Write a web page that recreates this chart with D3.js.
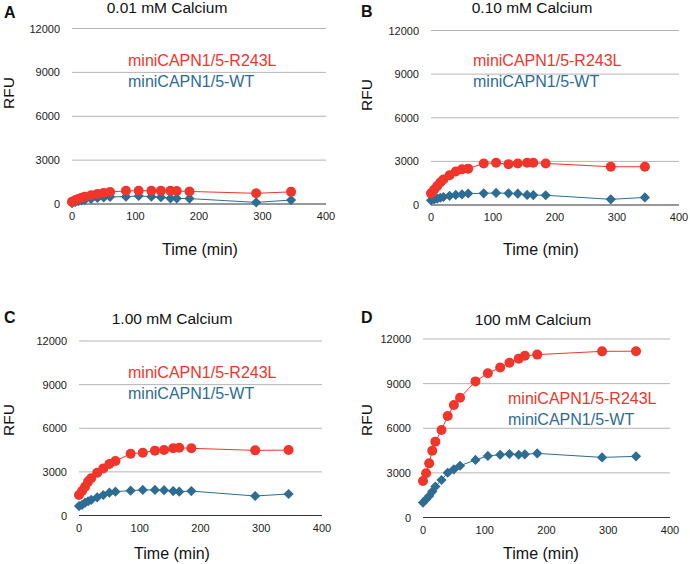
<!DOCTYPE html>
<html>
<head>
<meta charset="utf-8">
<script src="https://cdn.jsdelivr.net/npm/d3@7"></script>
<style>
  body { margin: 0; background: #fff; }
  svg { display: block; font-family: "Liberation Sans", Arial, Helvetica, sans-serif; }
</style>
</head>
<body>
<svg id="chart" width="690" height="564"></svg>
<script>
const timePoints = [0, 5, 10, 15, 20, 30, 40, 50, 60, 85, 105, 125, 140, 155, 165, 185, 290, 345];
const yTicks = [0, 3000, 6000, 9000, 12000];
const xTicks = [0, 100, 200, 300, 400];
const seriesNames = ["miniCAPN1/5-R243L", "miniCAPN1/5-WT"];
const panelLetters = ["A", "B", "C", "D"];
const panelTitles = ["0.01 mM Calcium", "0.10 mM Calcium", "1.00 mM Calcium", "100 mM Calcium"];

const mutantA = [150, 260, 350, 430, 500, 600, 690, 760, 820, 900, 910, 910, 900, 910, 890, 860, 730, 830];
const wildA   = [60, 130, 190, 240, 280, 350, 410, 450, 490, 500, 550, 500, 460, 390, 380, 370, 110, 270];
const mutantB = [800, 1050, 1300, 1550, 1750, 2050, 2300, 2450, 2500, 2860, 2900, 2810, 2850, 2900, 2900, 2860, 2630, 2630];
const wildB   = [320, 390, 440, 500, 550, 630, 690, 730, 790, 800, 830, 800, 780, 690, 680, 670, 390, 520];
const mutantC = [1410, 1680, 1980, 2330, 2560, 2940, 3240, 3540, 3750, 4250, 4320, 4460, 4500, 4620, 4660, 4620, 4480, 4500];
const wildC   = [650, 730, 880, 980, 1070, 1250, 1410, 1570, 1640, 1710, 1760, 1760, 1740, 1680, 1640, 1680, 1340, 1480];
const mutantD = [2450, 2970, 3640, 4490, 5100, 5880, 6820, 7560, 8050, 9150, 9700, 10080, 10400, 10680, 10870, 10950, 11170, 11180];
const wildD   = [1000, 1220, 1450, 1740, 2080, 2520, 3010, 3240, 3480, 3870, 4140, 4220, 4270, 4220, 4250, 4310, 4040, 4110];

const redColor = "#f0352b";
const blueColor = "#2d6c93";
const gridColor = "#b4b4b4";

// plot boxes
const panels = [
  { mutant: mutantA, wild: wildA, x0: 72,  x1: 326, y0: 204,   y1: 28.5, letterX: 4,   letterY: 18,  titleX: 167, titleY: 13,  legX: 128, legY: 66,  axisTitleX: 200, axisTitleY: 255, rfuX: 14,  rfuY: 93 },
  { mutant: mutantB, wild: wildB, x0: 431, x1: 679, y0: 205,   y1: 30.5, letterX: 361, letterY: 17,  titleX: 532, titleY: 13,  legX: 473, legY: 66,  axisTitleX: 541, axisTitleY: 255, rfuX: 372, rfuY: 95 },
  { mutant: mutantC, wild: wildC, x0: 79,  x1: 322, y0: 515.5, y1: 341,  letterX: 4,   letterY: 323, titleX: 172, titleY: 324, legX: 128, legY: 378, axisTitleX: 172, axisTitleY: 559, rfuX: 14,  rfuY: 420 },
  { mutant: mutantD, wild: wildD, x0: 423, x1: 670, y0: 517.5, y1: 339,  letterX: 361, letterY: 323, titleX: 533, titleY: 325, legX: 508, legY: 404, axisTitleX: 541, axisTitleY: 559, rfuX: 372, rfuY: 420 }
];

const svg = d3.select("#chart");

panels.forEach((p, i) => {
  const x = d3.scaleLinear().domain([0, 400]).range([p.x0, p.x1]);
  const y = d3.scaleLinear().domain([0, 12000]).range([p.y0, p.y1]);
  const g = svg.append("g");

  // gridlines
  g.selectAll(".grid").data(yTicks.slice(1)).enter().append("line")
    .attr("x1", p.x0).attr("x2", p.x1)
    .attr("y1", d => y(d)).attr("y2", d => y(d))
    .attr("stroke", gridColor).attr("stroke-width", 1);

  // x axis line
  g.append("line")
    .attr("x1", p.x0).attr("x2", p.x1)
    .attr("y1", y(0)).attr("y2", y(0))
    .attr("stroke", "#333").attr("stroke-width", 1.2);

  g.selectAll(".ylab").data(yTicks).enter().append("text")
    .attr("x", p.x0 - 12).attr("y", d => y(d) + 4)
    .attr("text-anchor", "end").attr("font-size", 11).attr("fill", "#222")
    .text(d => d);

  g.selectAll(".xlab").data(xTicks).enter().append("text")
    .attr("x", d => x(d)).attr("y", y(0) + 16)
    .attr("text-anchor", "middle").attr("font-size", 11).attr("fill", "#222")
    .text(d => d);

  g.append("text").attr("x", p.axisTitleX).attr("y", p.axisTitleY)
    .attr("text-anchor", "middle").attr("font-size", 16).attr("fill", "#111")
    .text("Time (min)");

  g.append("text")
    .attr("transform", `translate(${p.rfuX},${p.rfuY}) rotate(-90)`)
    .attr("text-anchor", "middle").attr("font-size", 15.5).attr("fill", "#111")
    .text("RFU");

  g.append("text").attr("x", p.letterX).attr("y", p.letterY)
    .attr("font-size", 16).attr("font-weight", "bold").attr("fill", "#111")
    .text(panelLetters[i]);

  g.append("text").attr("x", p.titleX).attr("y", p.titleY)
    .attr("text-anchor", "middle").attr("font-size", 15.5).attr("fill", "#111")
    .text(panelTitles[i]);

  const line = d3.line().x((d, j) => x(timePoints[j])).y(d => y(d));

  // wild type: line + diamonds
  g.append("path").datum(p.wild).attr("d", line)
    .attr("fill", "none").attr("stroke", blueColor).attr("stroke-width", 1);
  g.selectAll(".wt").data(p.wild).enter().append("path")
    .attr("d", d3.symbol().type(d3.symbolSquare).size(52))
    .attr("transform", (d, j) => `translate(${x(timePoints[j])},${y(d)}) rotate(45)`)
    .attr("fill", blueColor);

  // mutant: line + circles
  g.append("path").datum(p.mutant).attr("d", line)
    .attr("fill", "none").attr("stroke", redColor).attr("stroke-width", 1);
  g.selectAll(".mut").data(p.mutant).enter().append("circle")
    .attr("cx", (d, j) => x(timePoints[j])).attr("cy", d => y(d)).attr("r", 5)
    .attr("fill", redColor);

  g.append("text").attr("x", p.legX).attr("y", p.legY)
    .attr("font-size", 16).attr("fill", redColor).text(seriesNames[0]);
  g.append("text").attr("x", p.legX).attr("y", p.legY + 21)
    .attr("font-size", 16).attr("fill", blueColor).text(seriesNames[1]);
});
</script>
</body>
</html>
